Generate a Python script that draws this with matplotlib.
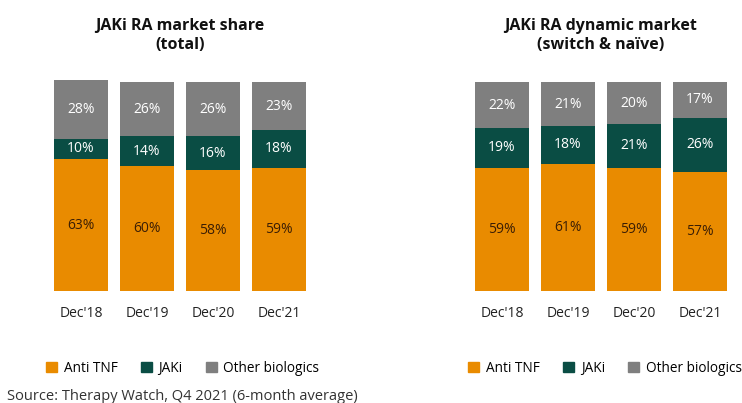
import numpy as np
import matplotlib
matplotlib.use("Agg")
import matplotlib.pyplot as plt
from matplotlib.patches import Patch

plt.rcParams['font.family'] = ['Open Sans', 'DejaVu Sans']

# data
periods = ["Dec'18", "Dec'19", "Dec'20", "Dec'21"]
series = ["Anti TNF", "JAKi", "Other biologics"]
total_anti_tnf = [63, 60, 58, 59]
total_jaki = [10, 14, 16, 18]
total_other = [28, 26, 26, 23]
dyn_anti_tnf = [59, 61, 59, 57]
dyn_jaki = [19, 18, 21, 26]
dyn_other = [22, 21, 20, 17]

colors = ["#E98B00", "#0A4D44", "#7F7F7F"]
label_colors = ["#3B1E05", "white", "white"]

W, H = 742, 403
fig = plt.figure(figsize=(W / 100, H / 100), dpi=100)

def px_axes(x0, y_bottom, w, h):
    return fig.add_axes([x0 / W, (H - y_bottom) / H, w / W, h / H])

def draw(ax, stacks, title, leg_x):
    x = np.arange(len(periods))
    bottom = np.zeros(len(periods))
    for vals, c, lc in zip(stacks, colors, label_colors):
        vals = np.array(vals, dtype=float)
        ax.bar(x, vals, 0.82, bottom=bottom, color=c)
        for xi, b, v in zip(x, bottom, vals):
            ax.text(xi, b + v / 2, "%d%%" % v, ha="center", va="center",
                    color=lc, fontsize=10)
        bottom += vals
    ax.set_xlim(-0.5, 3.5)
    ax.set_ylim(0, 102)
    ax.set_xticks(x)
    ax.set_xticklabels(periods, fontsize=10, color="#222222")
    ax.tick_params(length=0, pad=11)
    ax.set_yticks([])
    for s in ax.spines.values():
        s.set_visible(False)
    ax.set_title(title, fontsize=11.5, fontweight="bold", pad=21,
                 color="#111111", linespacing=1.25)
    handles = [Patch(color=c, label=l) for c, l in zip(colors, series)]
    ax.legend(handles=handles, loc="upper center", bbox_to_anchor=(leg_x, -0.27),
              ncol=3, frameon=False, fontsize=9.8, handlelength=0.8,
              handleheight=0.8, handletextpad=0.5, columnspacing=1.7)

ax1 = px_axes(48, 291, 264, 213)
draw(ax1, [total_anti_tnf, total_jaki, total_other],
     "JAKi RA market share\n(total)", 0.51)

ax2 = px_axes(469, 291, 264, 213)
draw(ax2, [dyn_anti_tnf, dyn_jaki, dyn_other],
     "JAKi RA dynamic market\n(switch & naïve)", 0.515)

fig.text(7 / W, 1 - 396 / H, "Source: Therapy Watch, Q4 2021 (6-month average)",
         fontsize=10.5, color="#333333", va="center", ha="left")

fig.savefig("out.png", dpi=100)
